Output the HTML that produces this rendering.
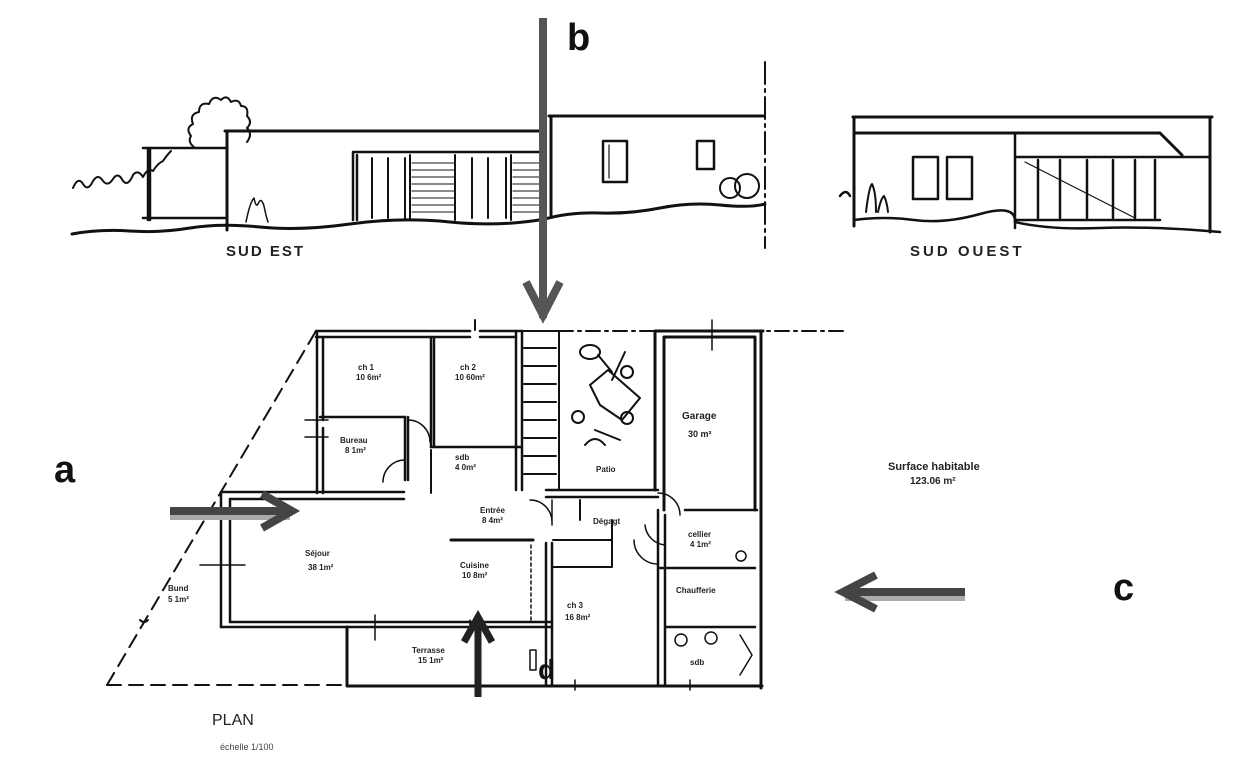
<!DOCTYPE html>
<html><head><meta charset="utf-8"><style>
html,body{margin:0;padding:0;background:#fff}
svg{display:block}
text{font-family:"Liberation Sans",sans-serif}
</style></head><body>
<svg width="1240" height="782" viewBox="0 0 1240 782" xmlns="http://www.w3.org/2000/svg">
<rect width="1240" height="782" fill="#fff"/>
<g stroke="#111" fill="none" stroke-linecap="round" stroke-linejoin="round">
<!-- ===== SUD EST elevation ===== -->
<path d="M72,234 Q100,229 130,231 T190,228 T260,227 T350,224 T450,222 T545,219 Q570,212 600,213 T660,208 T720,205 T765,204" stroke-width="3"/>
<!-- left low wall -->
<path d="M143,148 H225 M143,218 H225 M150,148 V220 M148,148 V220" stroke-width="2.5"/>
<!-- bush squiggle left -->
<path d="M73,188 q5,-12 10,-4 q5,8 10,-3 q5,-8 10,0 q5,6 10,-2 q5,-8 10,2 q5,6 10,-6 q5,-6 10,2 q5,-10 10,-6 q5,-8 10,-10 q4,-6 8,-10" stroke-width="2"/>
<!-- tree -->
<path d="M195,148 q-8,-6 -4,-12 q-6,-8 2,-12 q-4,-10 6,-12 q0,-10 10,-8 q4,-10 12,-4 q6,-6 10,2 q8,-4 10,4 q8,0 6,10 q6,6 0,12 q6,6 0,14" stroke-width="2"/>
<!-- main block -->
<path d="M225,131 H541 M227,131 V230" stroke-width="3"/>
<path d="M353,152 H541 M353,152 V220 M357,155 V220" stroke-width="2.5"/>
<path d="M372,158 V218 M388,158 V218 M405,158 V218 M410,155 V220 M455,155 V220 M472,158 V218 M488,158 V218 M506,158 V218 M511,155 V220" stroke-width="2"/>
<g stroke-width="1.2" stroke="#444"><path d="M412,163H454M412,170H454M412,177H454M412,184H454M412,191H454M412,198H454M412,205H454M412,212H454M513,163H540M513,170H540M513,177H540M513,184H540M513,191H540M513,198H540M513,205H540M513,212H540"/></g>
<path d="M246,222 q4,-20 8,-24 q2,10 4,6 q3,-8 6,2 q2,10 4,16" stroke-width="1.5"/>
<!-- right taller block -->
<path d="M549,116 H763 M551,116 V215" stroke-width="3"/>
<rect x="603" y="141" width="24" height="41" stroke-width="2.5"/>
<path d="M609,145 V178" stroke-width="1.2"/>
<rect x="697" y="141" width="17" height="28" stroke-width="2.5"/>
<circle cx="730" cy="188" r="10" stroke-width="2"/><circle cx="747" cy="186" r="12" stroke-width="2"/>
<!-- dash-dot divider -->
<path d="M765,62 V248" stroke-width="2" stroke-dasharray="22,5,3,5"/>
<!-- ===== SUD OUEST elevation ===== -->
<path d="M840,196 q6,-8 10,0 M854,220 q30,-4 60,0 T980,214 T1015,222 Q1050,230 1100,228 T1220,232" stroke-width="2.5"/>
<path d="M853,117 H1212 M854,117 V226 M1210,117 V232" stroke-width="3"/>
<path d="M854,133 H1160 L1182,155" stroke-width="3"/>
<path d="M1015,133 V228 M1015,157 H1210 M1015,220 H1160" stroke-width="2.5"/>
<path d="M1038,160 V218 M1060,160 V218 M1087,160 V218 M1113,160 V218 M1135,160 V218 M1155,160 V218" stroke-width="2.5"/>
<path d="M1025,162 L1135,218" stroke-width="1.2"/>
<rect x="913" y="157" width="25" height="42" stroke-width="2.5"/>
<rect x="947" y="157" width="25" height="42" stroke-width="2.5"/>
<path d="M866,212 q3,-25 6,-28 q4,8 4,28 M878,212 q3,-14 6,-16 q3,6 4,16" stroke-width="2"/>
<!-- ===== PLAN ===== -->
<!-- dashed site lines -->
<path d="M107,685 L316,331" stroke-width="2" stroke-dasharray="14,8"/>
<path d="M107,685 H348" stroke-width="2" stroke-dasharray="14,8"/>
<path d="M559,331 H845" stroke-width="2" stroke-dasharray="14,5,3,5"/>
<!-- bedroom block -->
<path d="M316,331 H470 M480,331 H522 M316,337 H470 M480,337 H516" stroke-width="2.5"/>
<path d="M317,333 V493 M323,337 V420 M323,428 V493" stroke-width="2.5"/>
<path d="M431,337 V447 M434,337 V447" stroke-width="2.5"/>
<path d="M320,417 H405" stroke-width="2.5"/>
<path d="M431,447 H521" stroke-width="2.5"/>
<path d="M516,331 V490 M522,331 V490" stroke-width="2.5"/>
<path d="M405,417 V480 M408,417 V480" stroke-width="2.5"/>
<path d="M408,420 a22,22 0 0,1 22,22 M405,460 a22,22 0 0,0 -22,22" stroke-width="1.5"/>
<path d="M431,450 V493 M475,330 V320" stroke-width="2"/>
<path d="M305,420 H328 M305,437 H328" stroke-width="1.5"/>
<!-- stairs -->
<path d="M522,331 H559 M559,331 V490" stroke-width="2"/>
<g stroke-width="2"><path d="M524,348H556M524,366H556M524,384H556M524,402H556M524,420H556M524,438H556M524,456H556M524,474H556"/></g>
<!-- patio plants -->
<g stroke-width="2"><ellipse cx="590" cy="352" rx="10" ry="7"/><path d="M598,355 L612,372 M625,352 L612,380"/><circle cx="627" cy="372" r="6"/><path d="M590,385 L608,370 L640,398 L622,420 L600,405 Z"/><circle cx="578" cy="417" r="6"/><circle cx="627" cy="418" r="6"/><path d="M595,430 L620,440 M585,445 q10,-12 20,0"/></g>
<!-- garage -->
<path d="M655,331 V490 M664,337 V510 M655,331 H763 M664,337 H755 M755,337 V510 M761,331 V688" stroke-width="3"/>
<path d="M712,320 V350" stroke-width="1.5"/>
<!-- patio bottom / living top -->
<path d="M221,492 H404 M230,499 H404 M546,490 H658 M546,497 H658" stroke-width="2.5"/>
<path d="M221,492 V627 M230,499 V622" stroke-width="2.5"/>
<path d="M200,565 H245" stroke-width="1.5"/>
<path d="M221,627 H552 M230,622 H552" stroke-width="2.5"/>
<path d="M375,615 V640 M470,620 V635" stroke-width="1.5"/>
<!-- terrace -->
<path d="M347,627 V686 M347,686 H762" stroke-width="3"/>
<path d="M546,543 V686 M552,543 V686" stroke-width="2.5"/>
<path d="M451,540 H533" stroke-width="3"/>
<path d="M531,545 V620" stroke-width="1.5" stroke-dasharray="3,3"/>
<path d="M530,650 h6 v20 h-6 z" stroke-width="1.5"/>
<!-- entrance doors -->
<path d="M530,500 a22,22 0 0,1 22,22 M552,500 V525 M658,493 a22,22 0 0,1 22,22" stroke-width="1.5"/>
<!-- right rooms -->
<path d="M658,510 V686 M665,515 V686" stroke-width="2.5"/>
<path d="M685,510 H757 M660,568 H755 M665,627 H755" stroke-width="2.5"/>
<path d="M553,540 H612 M553,567 H612 M612,520 V567 M580,500 V520" stroke-width="2"/>
<path d="M634,540 a24,24 0 0,0 24,24 M665,545 a22,22 0 0,1 -20,-20" stroke-width="1.5"/>
<circle cx="741" cy="556" r="5" stroke-width="1.5"/>
<path d="M740,635 L752,655 L740,675 M575,690 V680 M690,690 V680" stroke-width="1.5"/>
<circle cx="681" cy="640" r="6" stroke-width="1.5"/><circle cx="711" cy="638" r="6" stroke-width="1.5"/>
<path d="M140,620 q4,4 8,0" stroke-width="2"/>
</g>
<!-- small handwritten labels -->
<g fill="#222" font-size="8" font-weight="bold">
<text x="358" y="370">ch 1</text><text x="356" y="380">10 6m²</text>
<text x="460" y="370">ch 2</text><text x="455" y="380">10 60m²</text>
<text x="340" y="443">Bureau</text><text x="345" y="453">8 1m²</text>
<text x="455" y="460">sdb</text><text x="455" y="470">4 0m²</text>
<text x="480" y="513">Entrée</text><text x="482" y="523">8 4m²</text>
<text x="305" y="556">Séjour</text><text x="308" y="570">38 1m²</text>
<text x="460" y="568">Cuisine</text><text x="462" y="578">10 8m²</text>
<text x="593" y="524">Dégagt</text>
<text x="688" y="537">cellier</text><text x="690" y="547">4 1m²</text>
<text x="676" y="593">Chaufferie</text>
<text x="567" y="608">ch 3</text><text x="565" y="620">16 8m²</text>
<text x="412" y="653">Terrasse</text><text x="418" y="663">15 1m²</text>
<text x="168" y="591">Bund</text><text x="168" y="602">5 1m²</text>
<text x="690" y="665">sdb</text>
<text x="596" y="472">Patio</text>
</g>
<text x="682" y="419" font-size="10" font-weight="bold" fill="#222">Garage</text>
<text x="688" y="437" font-size="9" font-weight="bold" fill="#222">30 m²</text>
<text x="888" y="470" font-size="11" font-weight="bold" fill="#222">Surface habitable</text>
<text x="910" y="484" font-size="10" font-weight="bold" fill="#222">123.06 m²</text>
<text x="226" y="256" font-size="15" font-weight="bold" fill="#222" letter-spacing="2">SUD EST</text>
<text x="910" y="256" font-size="15" font-weight="bold" fill="#222" letter-spacing="3">SUD OUEST</text>
<text x="212" y="725" font-size="16" fill="#222">PLAN</text>
<text x="220" y="750" font-size="9" fill="#444">échelle 1/100</text>
<!-- ===== Arrows ===== -->
<g stroke-linecap="butt">
<path d="M543,18 V318" stroke="#555" stroke-width="8"/>
<path d="M526,282 L543,315 L560,282" stroke="#555" stroke-width="8" fill="none"/>
<path d="M170,516 H290" stroke="#aaa" stroke-width="8"/>
<path d="M170,511 H290" stroke="#444" stroke-width="8"/>
<path d="M262,494 L292,511 L262,528" stroke="#444" stroke-width="8" fill="none"/>
<path d="M845,597 H965" stroke="#aaa" stroke-width="8"/>
<path d="M845,592 H965" stroke="#444" stroke-width="8"/>
<path d="M876,575 L843,592 L876,609" stroke="#444" stroke-width="8" fill="none"/>
<path d="M478,697 V620" stroke="#222" stroke-width="7"/>
<path d="M464,642 L478,617 L492,642" stroke="#222" stroke-width="7" fill="none"/>
</g>
<g font-weight="bold" fill="#111">
<text x="567" y="50" font-size="38">b</text>
<text x="54" y="482" font-size="38">a</text>
<text x="1113" y="600" font-size="38">c</text>
<text x="538" y="679" font-size="28">d</text>
</g>
</svg>
</body></html>
